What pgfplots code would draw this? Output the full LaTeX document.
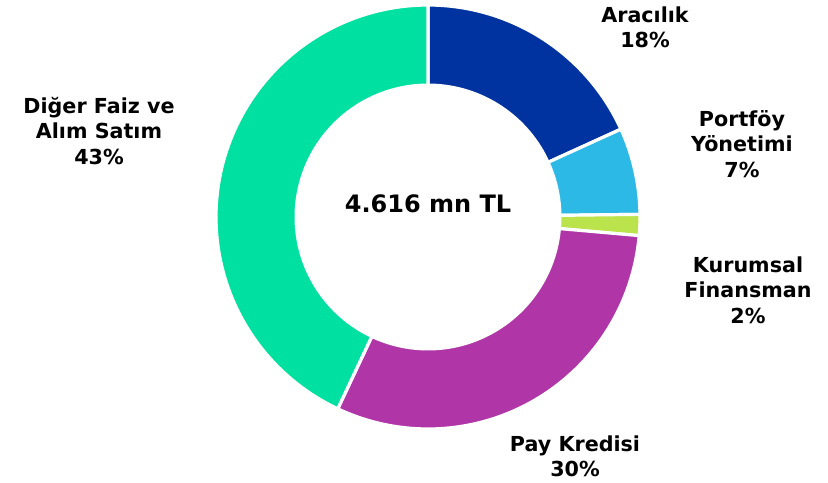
\documentclass[border=0pt]{standalone}
\usepackage{pgfplots}
\pgfplotsset{compat=1.18}
\usepackage{fontspec}
\setmainfont{DejaVu Sans}
\definecolor{cAra}{HTML}{0033A0}
\definecolor{cPort}{HTML}{2CB9E6}
\definecolor{cKur}{HTML}{BBE34B}
\definecolor{cPay}{HTML}{B036A8}
\definecolor{cDig}{HTML}{00E0A0}
\begin{document}
\begin{tikzpicture}
\begin{axis}[
  scale only axis, width=621pt, height=361.5pt,
  xmin=0, xmax=828, ymin=0, ymax=482,
  hide axis, clip=false,
  every axis plot/.append style={line join=round},
]
\path (rel axis cs:0,0) rectangle (rel axis cs:1,1);
% slices: percentage ranges (cumulative), clockwise from top
\addplot[fill=cAra, draw=white, line width=2.4pt, domain=0:18.2, samples=60]
  ({428+212*cos(90-3.6*x)}, {265+212*sin(90-3.6*x)}) -- (axis cs:428,265) -- cycle;
\addplot[fill=cPort, draw=white, line width=2.4pt, domain=18.2:24.8, samples=30]
  ({428+212*cos(90-3.6*x)}, {265+212*sin(90-3.6*x)}) -- (axis cs:428,265) -- cycle;
\addplot[fill=cKur, draw=white, line width=2.4pt, domain=24.8:26.4, samples=10]
  ({428+212*cos(90-3.6*x)}, {265+212*sin(90-3.6*x)}) -- (axis cs:428,265) -- cycle;
\addplot[fill=cPay, draw=white, line width=2.4pt, domain=26.4:57.0, samples=90]
  ({428+212*cos(90-3.6*x)}, {265+212*sin(90-3.6*x)}) -- (axis cs:428,265) -- cycle;
\addplot[fill=cDig, draw=white, line width=2.4pt, domain=57.0:100, samples=120]
  ({428+212*cos(90-3.6*x)}, {265+212*sin(90-3.6*x)}) -- (axis cs:428,265) -- cycle;
% hole
\addplot[fill=white, draw=none, domain=0:360, samples=180]
  ({428+133.5*cos(x)}, {265+133.5*sin(x)}) -- cycle;
% labels
\begin{scope}[every node/.style={align=center, font=\fontsize{15.5}{19}\selectfont\bfseries, text=black}]
\node at (axis cs:645,455) {Aracılık\\18\%};
\node at (axis cs:742,338) {Portföy\\Yönetimi\\7\%};
\node at (axis cs:748,192) {Kurumsal\\Finansman\\2\%};
\node at (axis cs:575,26) {Pay Kredisi\\30\%};
\node at (axis cs:99,351) {Diğer Faiz ve\\Alım Satım\\43\%};
\end{scope}
\node[font=\fontsize{18}{22}\selectfont\bfseries] at (axis cs:428,278) {4.616 mn TL};
\end{axis}
\end{tikzpicture}
\end{document}
